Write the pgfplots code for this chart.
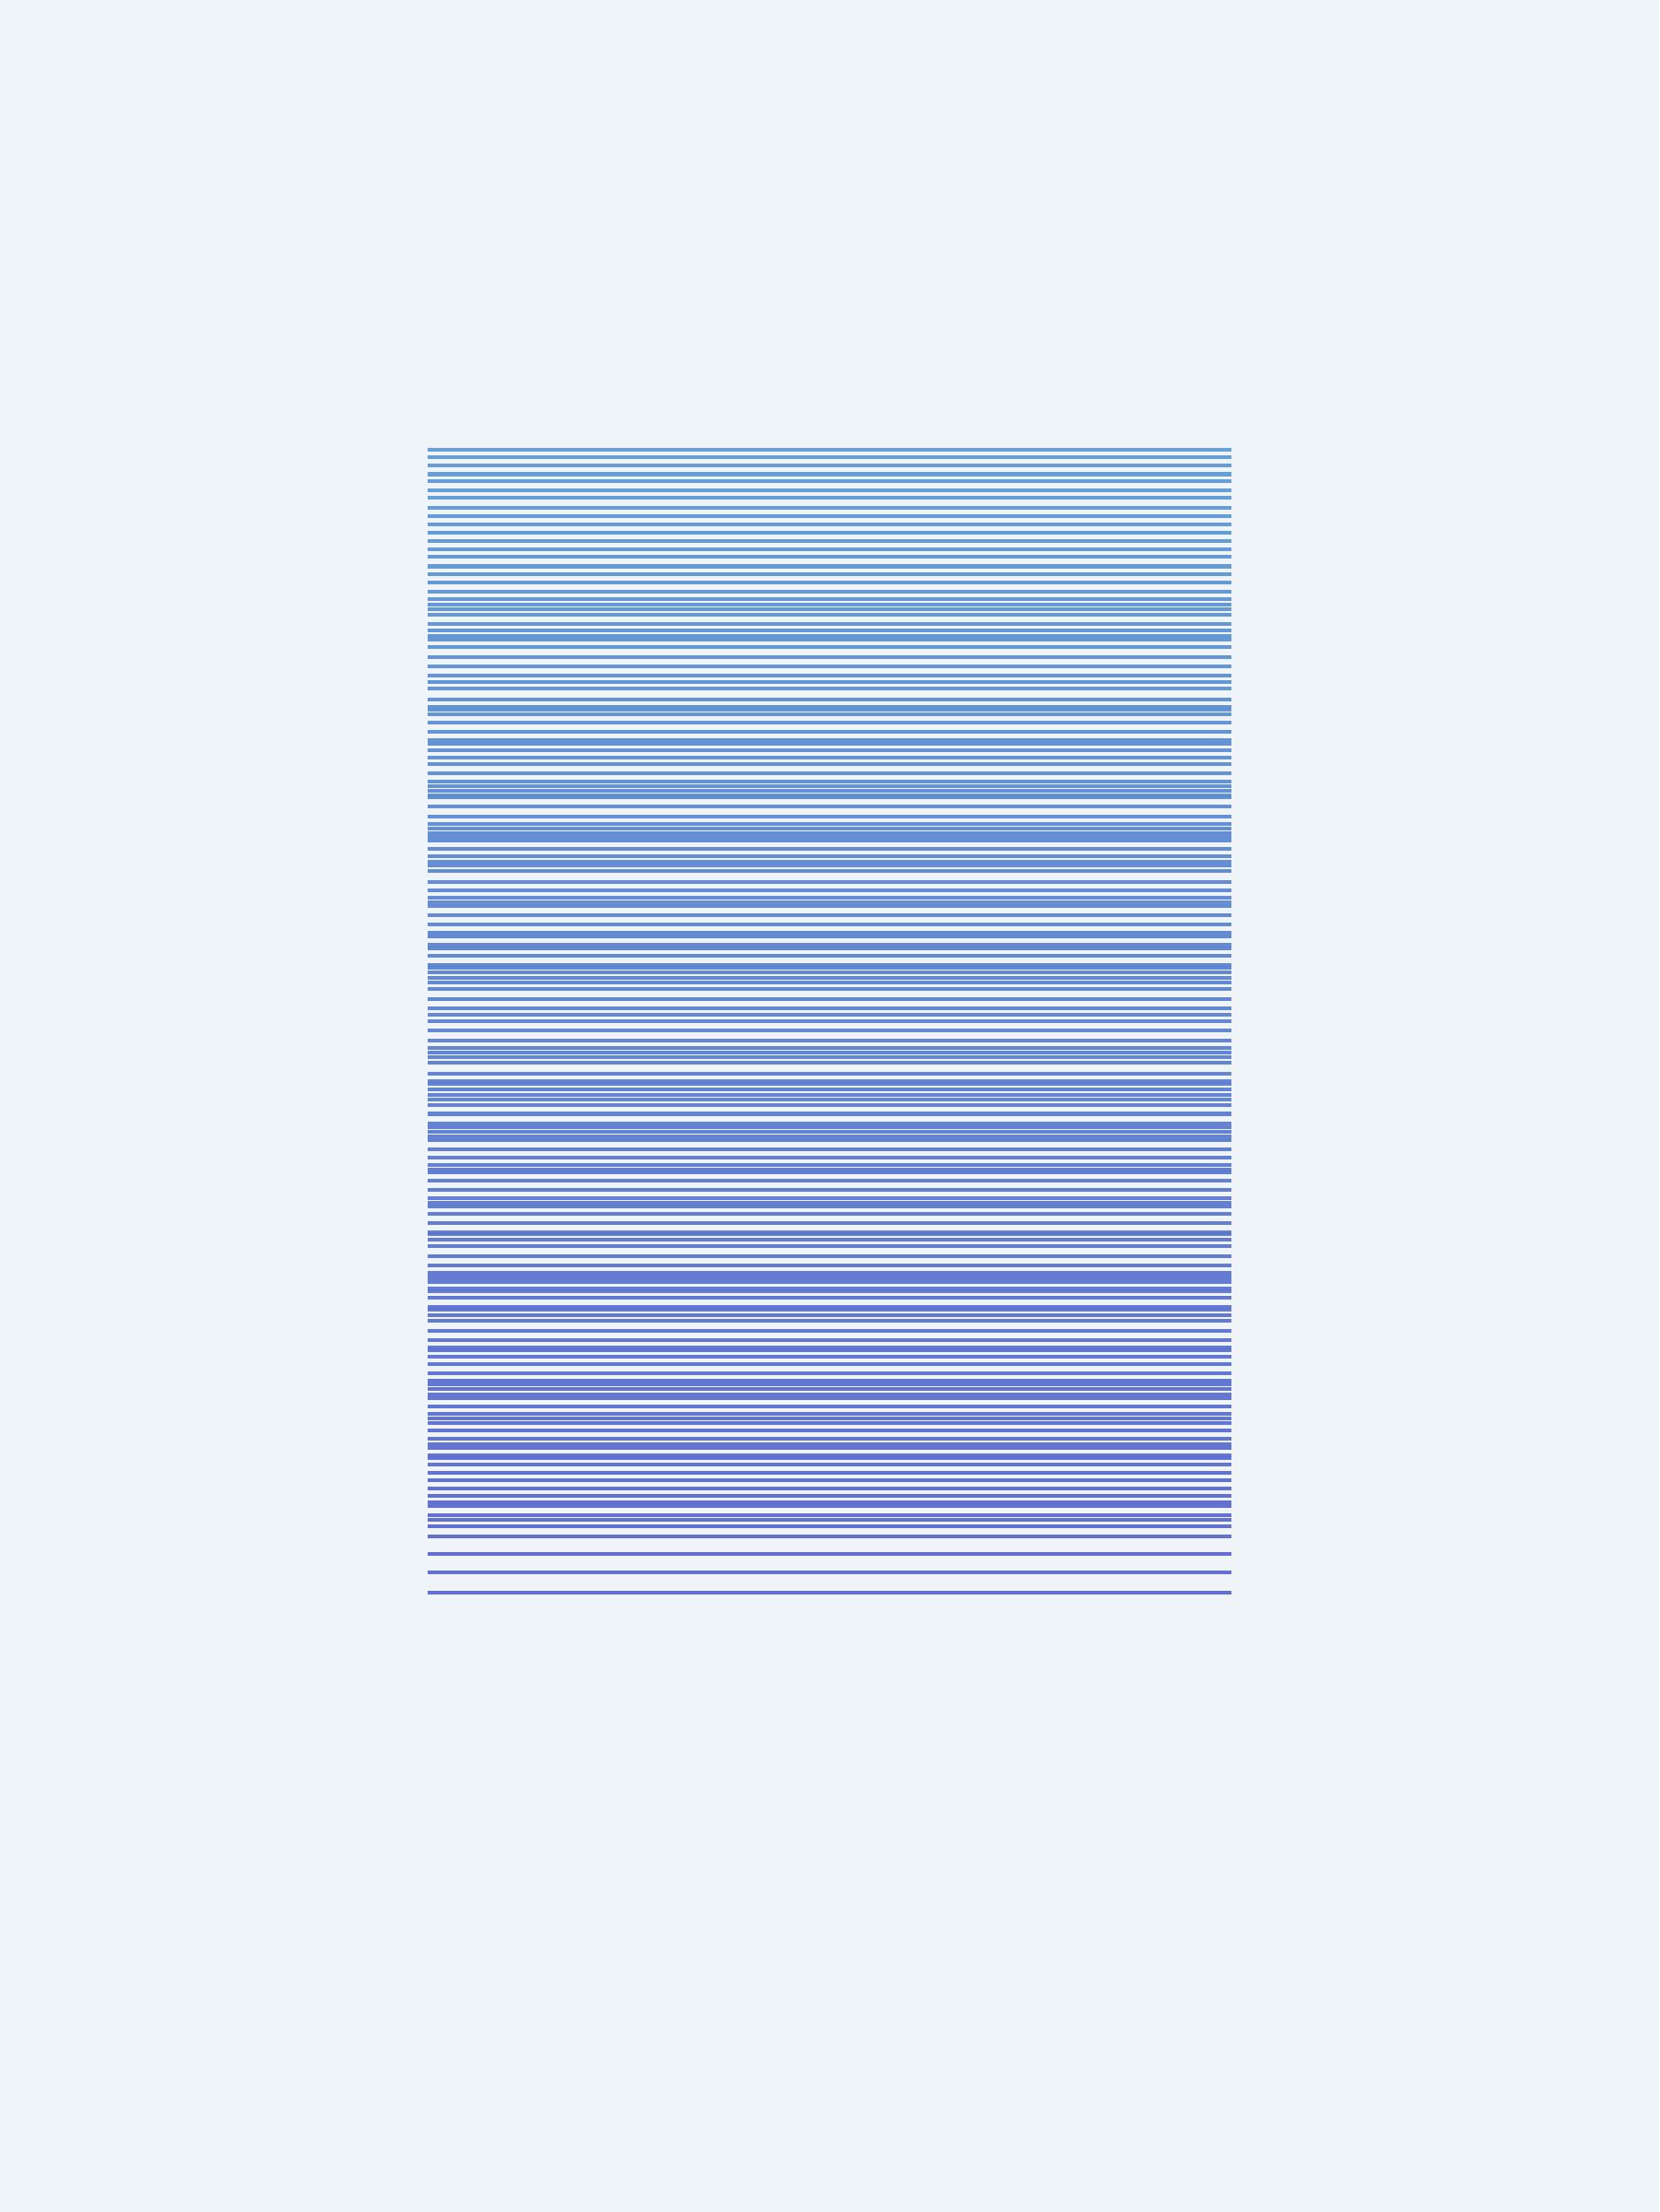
\documentclass[border=0pt]{standalone}
\usepackage{pgfplots}
\usepackage{pgfplotstable}
\pgfplotsset{compat=1.18}

\definecolor{bgpage}{RGB}{239,244,249}

% line positions, measured from the top of the block
\pgfplotstableread{
y
488.3
495.7
505.3
514.5
522.3
531.8
540.3
551.0
559.7
568.7
577.7
587.0
596.0
604.3
614.5
622.8
632.0
641.7
650.0
656.3
660.7
667.3
676.7
684.3
690.0
693.7
702.3
713.3
722.7
732.7
740.0
747.3
758.7
766.7
770.0
775.3
784.0
794.0
802.7
806.7
814.0
821.7
829.0
839.3
848.0
852.7
857.7
862.7
865.3
875.3
885.7
893.7
898.7
903.7
908.0
912.0
920.7
929.3
935.3
938.7
945.3
957.0
966.0
973.7
978.7
982.7
992.7
1002.7
1012.0
1016.0
1025.5
1029.0
1037.3
1047.3
1050.0
1054.7
1060.7
1065.7
1073.3
1084.3
1094.0
1101.3
1108.3
1118.0
1129.0
1136.7
1142.3
1146.7
1153.3
1164.7
1173.0
1176.3
1182.0
1188.3
1192.7
1199.3
1208.5
1219.3
1222.7
1227.7
1233.3
1236.7
1246.7
1256.0
1264.3
1269.3
1272.0
1281.0
1291.0
1300.0
1304.7
1309.3
1316.7
1327.3
1336.7
1339.3
1345.3
1352.0
1363.3
1372.7
1381.0
1385.5
1390.5
1398.0
1401.3
1408.0
1418.0
1421.3
1427.3
1433.0
1444.0
1454.0
1462.0
1465.3
1472.0
1479.7
1489.7
1498.0
1502.0
1507.0
1512.7
1517.3
1525.7
1534.0
1539.0
1543.7
1552.3
1561.3
1566.7
1570.7
1579.0
1582.3
1589.3
1597.7
1606.0
1615.0
1623.3
1630.0
1634.0
1644.0
1649.0
1656.0
1666.7
1686.0
1705.7
1728.0
}\lines

\begin{document}
\begin{tikzpicture}
\fill[bgpage] (0,0) rectangle (6in,8in);
\begin{axis}[
    at={(1.5467in,2.2333in)},
    anchor=south west,
    scale only axis,
    width=2.9067in,
    height=4.1467in,
    xmin=0, xmax=1,
    ymin=486, ymax=1730,
    y dir=reverse,
    hide axis,
    clip=false,
    colormap={lines}{rgb255=(91,153,212) rgb255=(88,100,206)},
    point meta min=488, point meta max=1728,
]
\addplot[
    line width=1bp,
    line cap=butt,
    point meta=\thisrow{y},
    quiver={u=1, v=0, colored,
        every arrow/.append style={-, draw opacity=0.92}},
] table[x expr=0, y=y] {\lines};
\end{axis}
\end{tikzpicture}
\end{document}
